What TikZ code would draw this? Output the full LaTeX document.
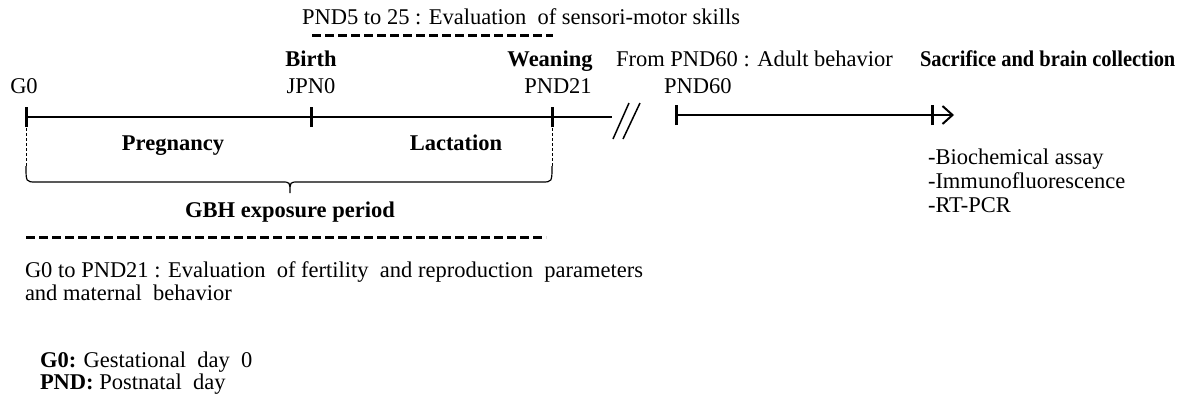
\documentclass[tikz,border=0pt]{standalone}
\usepackage{fontspec}
\setmainfont{Liberation Serif}
\usetikzlibrary{arrows.meta}
\begin{document}
\begin{tikzpicture}[x=1pt,y=-1pt,
  every node/.style={inner sep=0pt,outer sep=0pt,font=\fontsize{22.5}{27}\selectfont},
  lbl/.style={anchor=base},
  lblw/.style={anchor=base west},
  bold/.style={font=\fontsize{22.5}{27}\selectfont\bfseries},
  axis/.style={line width=2pt},
  tick/.style={line width=3pt},
  thickdash/.style={line width=3pt,dash pattern=on 9pt off 4pt},
  thindash/.style={line width=0.8pt,dash pattern=on 3pt off 2pt},
  brace/.style={line width=1.2pt}]
\useasboundingbox (0,0) rectangle (1192,405);

% timeline coordinates
\coordinate (g0) at (26,117);
\coordinate (b0) at (311,117);
\coordinate (w0) at (552,117);
\coordinate (lend) at (612,117);
\coordinate (p60) at (676,115);
\coordinate (sac) at (932,115);
\coordinate (tip) at (954,115);

\draw[axis] (g0) -- (lend);
\draw[axis,-{Straight Barb[length=10pt,width=18pt,line width=2pt]}] (p60) -- (tip);
\foreach \c in {g0,b0,w0,p60,sac}
  \draw[tick] ([yshift=-10pt]\c) -- ([yshift=10pt]\c);

% break marks
\draw[line width=1.5pt] (613,139) -- (629,103);
\draw[line width=1.5pt] (623,139) -- (640,103);

% top labels
\node[lbl] (tG0) at (24,93) {G0};
\node[lbl] (tJPN) at (311,93) {JPN0};
\node[lbl] (tPND21) at (558,93) {PND21};
\node[lblw] (tPND60) at (664,93) {PND60};
\node[lbl,bold] (tBirth) at (311,66) {Birth};
\node[lbl,bold] (tWean) at (550,66) {Weaning};
\node[lblw] (tAdult) at (616,66) {From PND60 : Adult behavior};
\node[lblw,bold] (tSac) at (920,66) {\scalebox{0.91}[1]{Sacrifice and brain collection}};
\node[lblw] (tSens) at (302,24) {PND5 to 25 : Evaluation~ of sensori-motor skills};
\coordinate (sd1) at (312,35);
\coordinate (sd2) at (553,35);
\draw[thickdash] (sd1) -- (sd2);

% phases
\node[lbl,bold] (tPreg) at (173,150) {Pregnancy};
\node[lbl,bold] (tLact) at (456,150) {Lactation};

% dashed verticals and brace
\coordinate (v1) at (26,128);
\coordinate (v2) at (552,128);
\coordinate (v1b) at (26,166);
\coordinate (v2b) at (552,166);
\draw[thindash] (v1) -- (v1b);
\draw[thindash] (v2) -- (v2b);
\draw[brace] (v1b) .. controls (26,182) .. (36,182) -- (282,182)
  .. controls (290,182) .. (290,193) .. controls (290,182) .. (298,182)
  -- (542,182) .. controls (552,182) .. (v2b);
\node[lbl,bold] (tGBH) at (290,217) {GBH exposure period};

\coordinate (gd1) at (26,237);
\coordinate (gd2) at (546,237);
\draw[thickdash] (gd1) -- (gd2);
\node[lblw] (tFert1) at (25,277) {G0 to PND21 : Evaluation~ of fertility~ and reproduction~ parameters};
\node[lblw] (tFert2) at (25,300) {and maternal~ behavior};

% list
\node[lblw] (l1) at (928,164) {-Biochemical assay};
\node[lblw] (l2) at (928,188) {-Immunofluorescence};
\node[lblw] (l3) at (928,212) {-RT-PCR};

% legend
\node[lblw] (lg1) at (40,367) {\textbf{G0:} Gestational~ day~ 0};
\node[lblw] (lg2) at (40,389) {\textbf{PND:} Postnatal~ day};
\end{tikzpicture}
\end{document}
